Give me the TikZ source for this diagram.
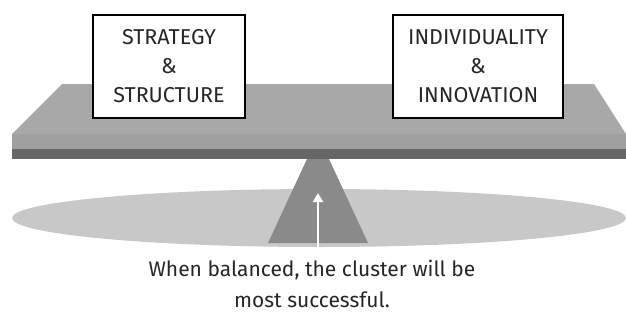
\documentclass[tikz,border=0pt]{standalone}
\usepackage{fontspec}
\setmainfont{Fira Sans}
\usetikzlibrary{arrows.meta}
\definecolor{boardtop}{HTML}{A8A8A8}
\definecolor{boardfront}{HTML}{A0A0A0}
\definecolor{boardedge}{HTML}{666666}
\definecolor{pivot}{HTML}{8A8A8A}
\definecolor{ground}{HTML}{C8C8C8}
\tikzset{
  label box/.style={draw=black, line width=1.6pt, fill=white, inner sep=0pt, align=center,
    font=\fontsize{21.5}{29}\selectfont, text=black!85},
  caption/.style={align=center, font=\fontsize{21}{31}\selectfont, text=black!85}
}
\begin{document}
\begin{tikzpicture}[x=1pt,y=-1pt]
\useasboundingbox (0,0) rectangle (626,327);
% ground shadow
\fill[ground] (319,218) ellipse [x radius=307, y radius=29];
% board
\fill[boardtop] (62,84) -- (594,84) -- (626,134) -- (12,134) -- cycle;
\fill[boardfront] (12,134) rectangle (626,149);
\fill[boardedge] (12,149) rectangle (626,159);
% pivot
\fill[pivot] (307,159) -- (329,159) -- (368,243) -- (268,243) -- cycle;
\coordinate (arrowfoot) at (318,266);
\coordinate (arrowtip) at (318,193);
\draw[white, line width=2pt, -{Triangle[width=10pt,length=9pt]}] (arrowfoot) -- (arrowtip);
% boxes
\node[label box, minimum width=152pt, minimum height=103pt] (left) at (169,66.5)
  {STRATEGY\\\&\\STRUCTURE};
\node[label box, minimum width=170pt, minimum height=103pt] (right) at (478,66.5)
  {INDIVIDUALITY\\\&\\INNOVATION};
% caption
\node[caption] (cap) at (312,284) {When balanced, the cluster will be\\most successful.};
\end{tikzpicture}
\end{document}
